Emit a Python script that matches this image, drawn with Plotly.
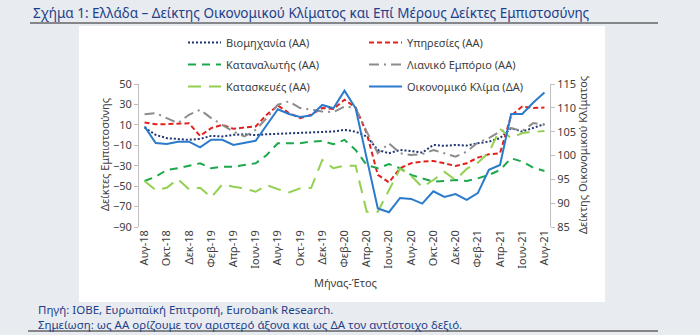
import plotly.graph_objects as go

# Month-year categories, Aug-18 .. Aug-21
month_names = ["Αυγ", "Σεπ", "Οκτ", "Νοε", "Δεκ", "Ιαν", "Φεβ", "Μαρ", "Απρ", "Μαϊ", "Ιουν", "Ιουλ"]
months = []
m, y = 0, 18
for _ in range(37):
    months.append(f"{month_names[m]}-{y}")
    m += 1
    if m == 5:  # Ιαν follows Δεκ
        y += 1
    if m == 12:
        m = 0

# Confidence indicators (left axis)
industry = [7.4, 0.2, -3.0, -3.5, -4.7, -3.7, -0.8, -1.4, 0.2, 0.8, 0.0, 0.8, 1.2, 1.5, 2.0, 2.3, 2.8, 3.5,
            5.1, 3.4, -1.4, -14.6, -17.8, -14.6, -15.6, -17.2, -9.6, -10.6, -9.6, -10.3, -8.0, -6.4, -3.0,
            6.8, 3.4, 7.4, 10.7]
services = [12.3, 10.7, 10.7, 11.3, 11.6, -0.8, 6.8, 10.0, 6.1, 7.4, 8.4, 19.9, 29.0, 21.5, 16.6, 19.9, 26.5, 25.5,
            34.6, 27.0, 1.9, -39.0, -46.3, -32.5, -27.6, -26.0, -25.4, -27.6, -30.3, -27.6, -22.1, -18.8, -17.8,
            19.0, 28.0, 26.5, 27.0]
consumer = [-45.0, -40.8, -34.2, -32.5, -30.0, -27.6, -32.5, -31.0, -31.0, -29.3, -27.6, -19.5, -8.0, -8.0, -8.0,
            -6.4, -5.7, -9.0, -4.7, -14.6, -29.3, -32.5, -28.5, -32.5, -39.0, -42.4, -45.7, -45.0, -44.0, -45.0,
            -42.4, -39.0, -34.2, -22.7, -26.0, -31.9, -35.2]
retail = [20.5, 21.5, 16.6, 11.7, 19.9, 24.8, 16.6, 10.0, 3.4, -1.4, 5.1, 16.6, 29.7, 33.0, 26.5, 24.8, 23.1, 22.5,
          28.0, 26.5, 3.4, -17.8, -8.0, -17.8, -19.5, -18.8, -14.6, -17.8, -21.1, -16.2, -7.4, -3.0, 3.4,
          6.8, 4.1, 11.7, 10.0]
construction = [-45.0, -53.9, -51.6, -43.0, -53.2, -51.6, -61.0, -48.3, -50.6, -52.2, -55.5, -49.0, -52.9, -56.2,
                -52.2, -51.6, -24.4, -32.5, -30.0, -30.0, -75.0, -75.0, -54.0, -33.0, -40.0, -51.0, -44.0, -36.0,
                -44.0, -33.0, -27.0, -17.0, 6.0, -3.0, 2.0, 3.0, 4.0]
# Economic sentiment indicator (right axis)
climate = [106.1, 102.6, 102.4, 102.9, 102.9, 101.7, 103.3, 103.3, 102.2, 102.7, 103.1, 106.4, 109.7, 108.7, 108.1,
           108.4, 110.6, 109.9, 113.6, 109.9, 99.5, 88.9, 88.1, 91.1, 90.9, 89.9, 92.5, 91.3, 91.9, 90.7, 92.1,
           97.0, 98.0, 108.7, 108.7, 111.1, 113.2]

left_ticks = [-90, -70, -50, -30, -10, 10, 30, 50]
right_ticks = [85, 90, 95, 100, 105, 110, 115]

# plot-area pixel box
W, H = 700, 335
L, R, T, B = 139, 550, 84, 227


def px(x):
    return (x - L) / (R - L)


def py(y):
    return (B - y) / (B - T)


FONT = "Noto Sans"
AXIS_GREY = "#bfbfbf"
TEXT = "#404040"
NAVY_TEXT = "#1e3f8a"

fig = go.Figure()

series = [
    ("Βιομηχανία (ΑΑ)", industry, "#1f3470", "2px,2px", "legend", "y"),
    ("Υπηρεσίες (ΑΑ)", services, "#e3211c", "5px,3px", "legend2", "y"),
    ("Καταναλωτής (ΑΑ)", consumer, "#1ea84c", "8px,6px", "legend", "y"),
    ("Λιανικό Εμπόριο (ΑΑ)", retail, "#8c8c8c", "10px,5px,2px,5px", "legend2", "y"),
    ("Κατασκευές (ΑΑ)", construction, "#92d050", "13px,8px", "legend", "y"),
    ("Οικονομικό Κλίμα (ΔΑ)", climate, "#2a7bcc", "solid", "legend2", "y2"),
]
for i, (name, vals, color, dash, leg, yax) in enumerate(series):
    fig.add_trace(go.Scatter(
        x=months, y=vals, name=name, mode="lines",
        line=dict(color=color, width=2, dash=dash),
        yaxis=yax, legend=leg, legendgroup=f"g{i}", hoverinfo="skip",
    ))

legend_common = dict(
    orientation="v", bgcolor="rgba(0,0,0,0)", borderwidth=0,
    font=dict(family=FONT, size=11, color=TEXT), tracegroupgap=3,
    xanchor="left", yanchor="top", itemclick=False, itemdoubleclick=False,
    itemwidth=33,
)

fig.update_layout(
    width=W, height=H,
    margin=dict(l=L, r=W - R, t=T, b=H - B, autoexpand=False),
    paper_bgcolor="#e8ebf0", plot_bgcolor="rgba(0,0,0,0)",
    font=dict(family=FONT, size=11, color=TEXT),
    showlegend=True,
    legend=dict(x=px(183), y=py(28), **legend_common),
    legend2=dict(x=px(364), y=py(28), **legend_common),
    xaxis=dict(
        type="category", categoryorder="array", categoryarray=months,
        range=[-0.5, 36.5], tickmode="array", tickvals=months[::2],
        tickangle=-90, ticks="", showline=False, showgrid=False, zeroline=False,
        tickfont=dict(family=FONT, size=11, color=TEXT),
    ),
    xaxis2=dict(
        overlaying="x", anchor="free", position=90 / 140,
        range=[-0.5, 36.5], tick0=-0.5, dtick=2, showline=True, linecolor="#c4c4c4",
        linewidth=2, ticks="outside", ticklen=4, tickcolor="#c4c4c4",
        showticklabels=False, showgrid=False, zeroline=False,
    ),
    yaxis=dict(
        range=[-90, 50], tickmode="array", tickvals=left_ticks,
        showgrid=False, zeroline=False, showline=True, linecolor=AXIS_GREY, linewidth=1,
        ticks="outside", ticklen=4, tickcolor=AXIS_GREY,
        tickfont=dict(family=FONT, size=11, color=TEXT),
    ),
    yaxis2=dict(
        overlaying="y", side="right", range=[85, 115], tickmode="array", tickvals=right_ticks,
        showgrid=False, zeroline=False, showline=True, linecolor=AXIS_GREY, linewidth=1,
        ticks="outside", ticklen=4, tickcolor=AXIS_GREY,
        tickfont=dict(family=FONT, size=11, color=TEXT),
    ),
)

# white chart panel behind the plot
fig.add_shape(type="rect", xref="paper", yref="paper", layer="below",
              x0=px(79), x1=px(605), y0=py(302), y1=py(26),
              fillcolor="white", line=dict(width=0))
# title underline and footer rule
fig.add_shape(type="line", xref="paper", yref="paper", x0=px(30), x1=px(658), y0=py(23), y1=py(23),
              line=dict(color="#222222", width=1.2))
fig.add_shape(type="line", xref="paper", yref="paper", x0=px(28), x1=px(658), y0=py(331), y1=py(331),
              line=dict(color="#222222", width=1.2))

annotations = [
    dict(text="Σχήμα 1: Ελλάδα – Δείκτης Οικονομικού Κλίματος και Επί Μέρους Δείκτες Εμπιστοσύνης",
         x=px(31), y=py(13), xanchor="left", yanchor="middle", font=dict(size=13.5, color=NAVY_TEXT)),
    dict(text="Δείκτες Εμπιστοσύνης", x=px(104), y=py(155), textangle=-90,
         xanchor="center", yanchor="middle", font=dict(size=11, color=TEXT)),
    dict(text="Δείκτης Οικονομικού Κλίματος", x=px(582), y=py(155), textangle=-90,
         xanchor="center", yanchor="middle", font=dict(size=11, color=TEXT)),
    dict(text="Μήνας-Έτος", x=px(345), y=py(282), xanchor="center", yanchor="middle",
         font=dict(size=11, color=TEXT)),
    dict(text="Πηγή: ΙΟΒΕ, Ευρωπαϊκή Επιτροπή, Eurobank Research.<br>"
              "Σημείωση: ως ΑΑ ορίζουμε τον αριστερό άξονα και ως ΔΑ τον αντίστοιχο δεξιό.",
         x=px(36), y=py(316.5), xanchor="left", yanchor="middle", align="left",
         font=dict(size=11.5, color=NAVY_TEXT)),
]
for a in annotations:
    a.update(xref="paper", yref="paper", showarrow=False)
    a["font"]["family"] = FONT
    fig.add_annotation(**a)

fig.write_html("out.html")
